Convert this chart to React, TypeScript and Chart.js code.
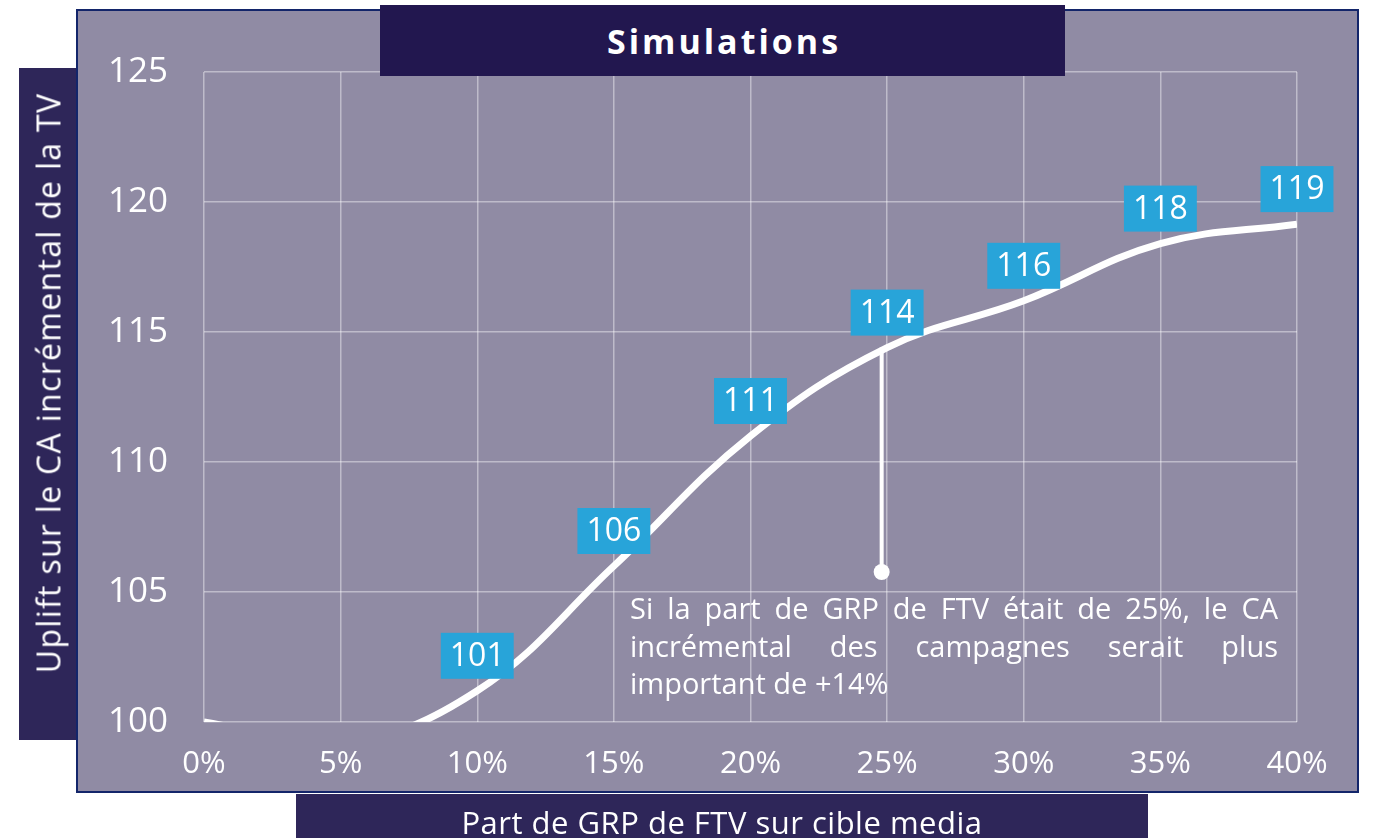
import React, { useEffect, useRef } from "react";
import { Chart, registerables } from "chart.js";

Chart.register(...registerables);

const shareValues = [0, 5, 10, 15, 20, 25, 30, 35, 40];
const upliftValues = [100, 99.2, 101.2, 106, 111, 114.4, 116.2, 118.4, 119.15];
const labelledFromIndex = 2;
const yTicks = [100, 105, 110, 115, 120, 125];
const chartTitle = "Simulations";
const yTitle = "Uplift sur le CA incrémental de la TV";
const xTitle = "Part de GRP de FTV sur cible media";
const noteLines = [
  "Si la part de GRP de FTV était de 25%, le CA",
  "incrémental des campagnes serait plus",
  "important de +14%",
];
const noteAnchor = { x: 24.8, yFrom: 114.4, yTo: 105.77 };

const FONT = "'Open Sans', Lato, sans-serif";

const labelPlugin = {
  id: "valueBoxes",
  afterDatasetsDraw(chart: any) {
    const ctx = chart.ctx;
    const xs = chart.scales.x;
    const ys = chart.scales.y;
    ctx.save();
    const ax = xs.getPixelForValue(noteAnchor.x);
    const ay1 = ys.getPixelForValue(noteAnchor.yFrom);
    const ay2 = ys.getPixelForValue(noteAnchor.yTo);
    ctx.strokeStyle = "#ffffff";
    ctx.lineWidth = 4;
    ctx.beginPath();
    ctx.moveTo(ax, ay1);
    ctx.lineTo(ax, ay2);
    ctx.stroke();
    ctx.fillStyle = "#ffffff";
    ctx.beginPath();
    ctx.arc(ax, ay2, 8, 0, Math.PI * 2);
    ctx.fill();

    ctx.font = `400 32px ${FONT}`;
    ctx.textAlign = "center";
    ctx.textBaseline = "middle";
    for (let i = labelledFromIndex; i < shareValues.length; i++) {
      const px = xs.getPixelForValue(shareValues[i]);
      const py = ys.getPixelForValue(upliftValues[i]);
      const txt = String(Math.round(upliftValues[i]));
      const w = ctx.measureText(txt).width + 18;
      const h = 46;
      const bottom = py - 12;
      ctx.fillStyle = "#28a4d9";
      ctx.fillRect(px - w / 2, bottom - h, w, h);
      ctx.fillStyle = "#ffffff";
      ctx.fillText(txt, px, bottom - h / 2 + 1);
    }

    const left = 630;
    const right = 1278;
    const firstBaseline = 619;
    const lh = 37.5;
    ctx.font = `400 29px ${FONT}`;
    ctx.textAlign = "left";
    ctx.textBaseline = "alphabetic";
    ctx.fillStyle = "#ffffff";
    noteLines.forEach((line, li) => {
      const y = firstBaseline + li * lh;
      const words = line.split(" ");
      if (li === noteLines.length - 1) {
        ctx.fillText(line, left, y);
        return;
      }
      const total = words.reduce((s, w) => s + ctx.measureText(w).width, 0);
      const gap = (right - left - total) / (words.length - 1);
      let cx = left;
      words.forEach((w) => {
        ctx.fillText(w, cx, y);
        cx += ctx.measureText(w).width + gap;
      });
    });
    ctx.restore();
  },
};

export default function App() {
  const ref = useRef<HTMLCanvasElement>(null);
  useEffect(() => {
    document.body.style.margin = "0";
    const chart = new Chart(ref.current!, {
      type: "line",
      data: {
        datasets: [
          {
            data: shareValues.map((x, i) => ({ x, y: upliftValues[i] })),
            borderColor: "#ffffff",
            borderWidth: 7,
            pointRadius: 0,
            tension: 0.4,
            fill: false,
            clip: 0,
          },
        ],
      },
      options: {
        animation: false,
        responsive: false,
        maintainAspectRatio: false,
        layout: { padding: { left: 0, right: 76, top: 72, bottom: 0 } },
        plugins: { legend: { display: false }, tooltip: { enabled: false } },
        scales: {
          x: {
            type: "linear",
            min: 0,
            max: 40,
            afterFit: (s: any) => {
              s.height = 116;
            },
            afterBuildTicks: (s: any) => {
              s.ticks = shareValues.map((v) => ({ value: v }));
            },
            ticks: {
              color: "#ffffff",
              font: { family: FONT, size: 31 },
              padding: 24,
              callback: (v: any) => `${v}%`,
              maxRotation: 0,
            },
            grid: { color: "rgba(255,255,255,0.42)", lineWidth: 1.5, drawTicks: false },
            border: { display: false },
          },
          y: {
            min: 100,
            max: 125,
            afterFit: (s: any) => {
              s.width = 204;
            },
            afterBuildTicks: (s: any) => {
              s.ticks = yTicks.map((v) => ({ value: v }));
            },
            ticks: {
              color: "#ffffff",
              font: { family: FONT, size: 35 },
              padding: 36,
            },
            grid: { color: "rgba(255,255,255,0.42)", lineWidth: 1.5, drawTicks: false },
            border: { display: false },
          },
        },
      },
      plugins: [labelPlugin],
    });
    return () => chart.destroy();
  }, []);

  const box = (s: React.CSSProperties): React.CSSProperties => ({ position: "absolute", ...s });

  return (
    <div style={{ position: "fixed", left: 0, top: 0, width: 1373, height: 838, background: "#ffffff", overflow: "hidden", fontFamily: FONT }}>
      <div style={box({ left: 76, top: 9, width: 1279, height: 780, background: "#908ba4", border: "2px solid #13256a" })} />
      <div style={box({ left: 19, top: 68, width: 57, height: 672, background: "#2e2659" })} />
      <div style={box({ left: 296, top: 794, width: 852, height: 44, background: "#2e2659" })} />
      <canvas ref={ref} width={1373} height={838} style={{ position: "absolute", left: 0, top: 0 }} />
      <div style={box({ left: 380, top: 5, width: 685, height: 71, background: "#22174f", color: "#fff", fontWeight: 700, fontSize: 34, letterSpacing: 3, paddingLeft: 3, boxSizing: "border-box", display: "flex", alignItems: "center", justifyContent: "center" })}>
        {chartTitle}
      </div>
      <div style={box({ left: 48, top: 383, width: 0, height: 0 })}>
        <div style={{ position: "absolute", transform: "translate(-50%,-50%) rotate(-90deg)", whiteSpace: "nowrap", color: "#fff", fontSize: 32, letterSpacing: 1.3, left: 0, top: 0 }}>
          {yTitle}
        </div>
      </div>
      <div style={box({ left: 296, top: 800, width: 852, textAlign: "center", color: "#fff", fontSize: 31, letterSpacing: 0.5, lineHeight: "44px" })}>
        {xTitle}
      </div>
    </div>
  );
}
